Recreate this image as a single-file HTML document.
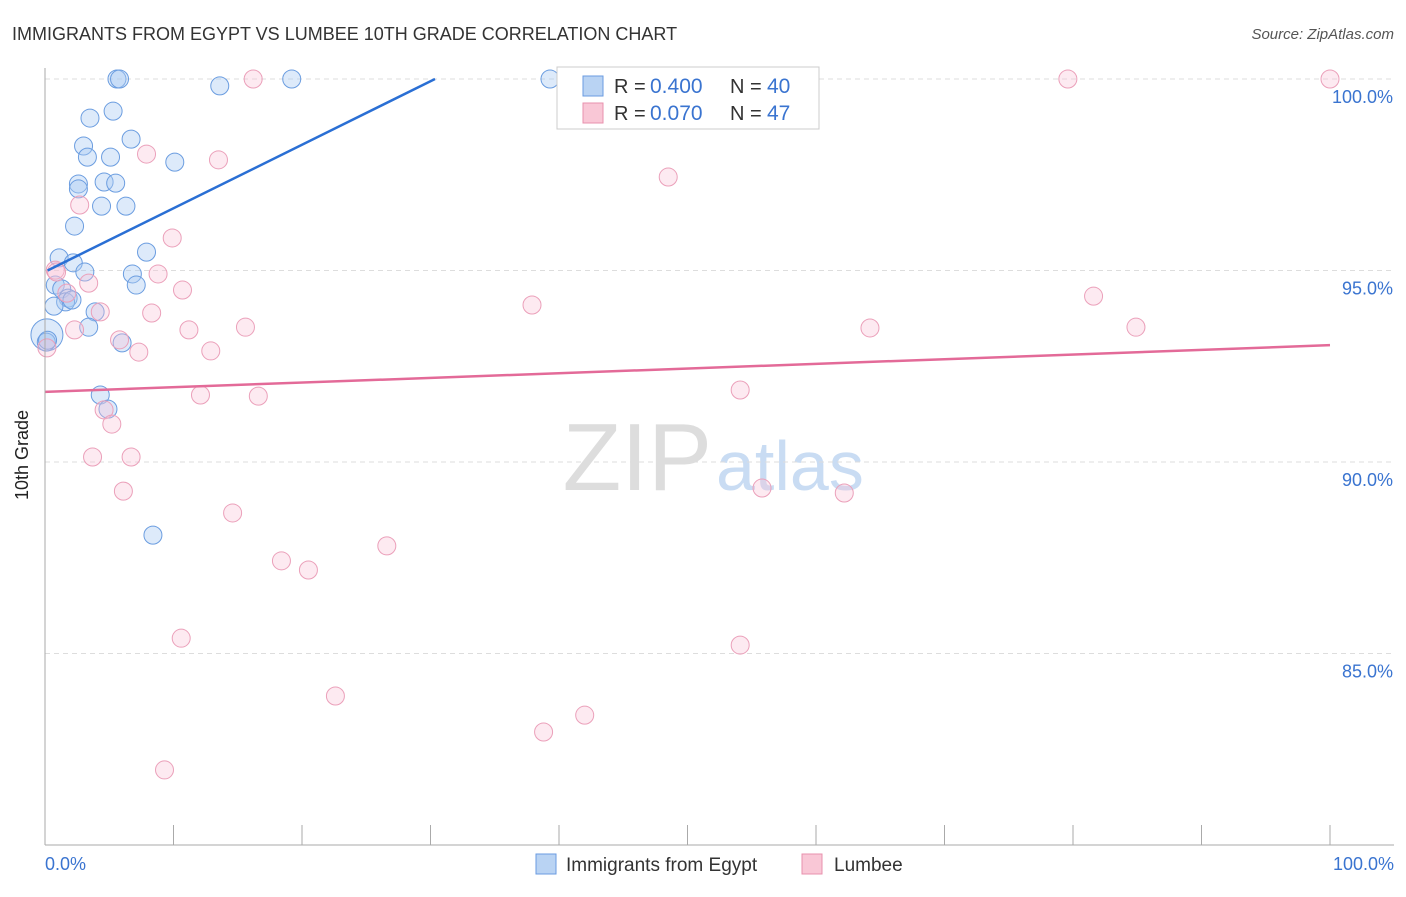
<!DOCTYPE html>
<html><head><meta charset="utf-8"><style>
body{margin:0;background:#fff;font-family:"Liberation Sans",sans-serif}
svg text{font-family:"Liberation Sans",sans-serif}
</style></head><body>
<svg id="c" width="1406" height="892" xmlns="http://www.w3.org/2000/svg">
<text x="12" y="40" font-size="18" fill="#333">IMMIGRANTS FROM EGYPT VS LUMBEE 10TH GRADE CORRELATION CHART</text>
<text x="1394" y="39" font-size="15" fill="#555" text-anchor="end" font-style="italic">Source: ZipAtlas.com</text>
<text x="712" y="490" font-size="96" fill="#ddd" text-anchor="end" font-family="Liberation Serif">ZIP</text>
<text x="716" y="490" font-size="70" fill="#c9dcf3">atlas</text>
<g id="grid"></g><g id="pts"></g><g id="lines"></g>
<line x1="45" y1="68" x2="45" y2="845" stroke="#aaa"/>
<line x1="45" y1="845" x2="1394" y2="845" stroke="#aaa"/>
<text x="28" y="455" font-size="18" fill="#222" text-anchor="middle" transform="rotate(-90 28 455)">10th Grade</text>
<text x="45" y="870" font-size="18" fill="#3a74d0">0.0%</text>
<text x="1394" y="870" font-size="18" fill="#3a74d0" text-anchor="end">100.0%</text>
<g>
<rect x="557" y="67" width="262" height="62" fill="#fff" stroke="#ccc"/>
<rect x="583" y="76" width="20" height="20" fill="#b9d3f3" stroke="#6a9be0"/>
<rect x="583" y="103" width="20" height="20" fill="#f9c7d6" stroke="#e891ad"/>
<text x="614" y="93" font-size="20" fill="#333">R =</text>
<text x="650" y="93" font-size="21" fill="#3a74d0">0.400</text>
<text x="730" y="93" font-size="20" fill="#333">N =</text>
<text x="767" y="93" font-size="21" fill="#3a74d0">40</text>
<text x="614" y="120" font-size="20" fill="#333">R =</text>
<text x="650" y="120" font-size="21" fill="#3a74d0">0.070</text>
<text x="730" y="120" font-size="20" fill="#333">N =</text>
<text x="767" y="120" font-size="21" fill="#3a74d0">47</text>
</g>
<g>
<rect x="536" y="854" width="20" height="20" fill="#b9d3f3" stroke="#6a9be0"/>
<text x="566" y="871" font-size="19" fill="#333">Immigrants from Egypt</text>
<rect x="802" y="854" width="20" height="20" fill="#f9c7d6" stroke="#e891ad"/>
<text x="834" y="871" font-size="19" fill="#333">Lumbee</text>
</g>
</svg>
<script>
const yTicks=[100,95,90,85];
const yTickLabels=["100.0%","95.0%","90.0%","85.0%"];
const xTicks=[0,10,20,30,40,50,60,70,80,90,100];
const egyptX=[5.6,5.8,13.6,19.2,39.3,5.3,3.5,6.7,3.0,5.1,3.3,10.1,4.6,5.5,2.6,2.6,4.4,6.3,2.3,7.9,1.1,2.2,3.1,6.8,7.1,0.8,1.3,1.8,1.6,2.1,0.7,3.9,3.4,0.15,0.1,6.0,4.3,4.9,8.4,0.2];
const egyptY=[100,100,99.82,100,100,99.16,98.98,98.43,98.25,97.96,97.96,97.83,97.31,97.28,97.26,97.13,96.68,96.68,96.16,95.48,95.33,95.2,94.96,94.91,94.62,94.62,94.52,94.28,94.18,94.23,94.07,93.92,93.52,93.32,93.13,93.11,91.75,91.38,88.09,93.18];
const lumbeeX=[16.2,79.6,100,7.9,13.5,48.5,2.7,9.9,0.8,8.8,3.4,10.7,1.7,81.6,37.9,8.3,4.3,2.3,11.2,15.6,64.2,84.9,5.8,7.3,12.9,0.15,54.1,12.1,16.6,4.6,5.2,3.7,6.7,6.1,55.8,62.2,14.6,26.6,18.4,20.5,10.6,54.1,22.6,42.0,38.8,9.3,0.9];
const lumbeeY=[100,100,100,98.04,97.89,97.44,96.71,95.85,95.01,94.91,94.67,94.49,94.41,94.33,94.1,93.89,93.92,93.45,93.45,93.52,93.5,93.52,93.19,92.87,92.9,92.98,91.88,91.75,91.72,91.36,90.99,90.13,90.13,89.24,89.32,89.19,88.67,87.81,87.42,87.18,85.4,85.22,83.89,83.39,82.95,81.96,94.96];
const egyptTrend=[[0.2,95.0],[30.35,100]];
const lumbeeTrend=[[0,91.83],[100,93.05]];
const NS="http://www.w3.org/2000/svg";
const X=v=>45+v*12.85, Y=v=>79+(100-v)*38.3;
function mk(t,a,p){const e=document.createElementNS(NS,t);for(const k in a)e.setAttribute(k,a[k]);p.appendChild(e);return e;}
const g=document.getElementById('grid');
yTicks.forEach((t,i)=>{
 const l=mk('line',{x1:45,x2:1394,y1:Y(t),y2:Y(t),stroke:'#ddd','stroke-dasharray':'5,4'},g);
 
 
 const tx=mk('text',{x:1393,y:Y(t)+24,'font-size':18,fill:'#3a74d0','text-anchor':'end'},g);
 tx.textContent=yTickLabels[i];
 
 
});
xTicks.forEach(t=>{
 const l=mk('line',{x1:X(t),x2:X(t),y1:825,y2:845,stroke:'#aaa'},g);
 
 
});
const p=document.getElementById('pts');
egyptX.forEach((x,i)=>{
 const c=mk('circle',{cx:X(x),cy:Y(egyptY[i]),r:(i==33?16:9),fill:'rgba(170,202,242,0.4)',stroke:'#6b9de0','stroke-width':1},p);
 
 
});
lumbeeX.forEach((x,i)=>{
 const c=mk('circle',{cx:X(x),cy:Y(lumbeeY[i]),r:9,fill:'rgba(248,196,214,0.35)',stroke:'#eba0ba','stroke-width':1},p);
 
 
});
const L=document.getElementById('lines');
const b=mk('line',{x1:X(egyptTrend[0][0]),y1:Y(egyptTrend[0][1]),x2:X(egyptTrend[1][0]),y2:Y(egyptTrend[1][1]),stroke:'#2a6fd4','stroke-width':2.5},L);


const r=mk('line',{x1:X(lumbeeTrend[0][0]),y1:Y(lumbeeTrend[0][1]),x2:X(lumbeeTrend[1][0]),y2:Y(lumbeeTrend[1][1]),stroke:'#e36a98','stroke-width':2.5},L);


</script>
</body></html>
